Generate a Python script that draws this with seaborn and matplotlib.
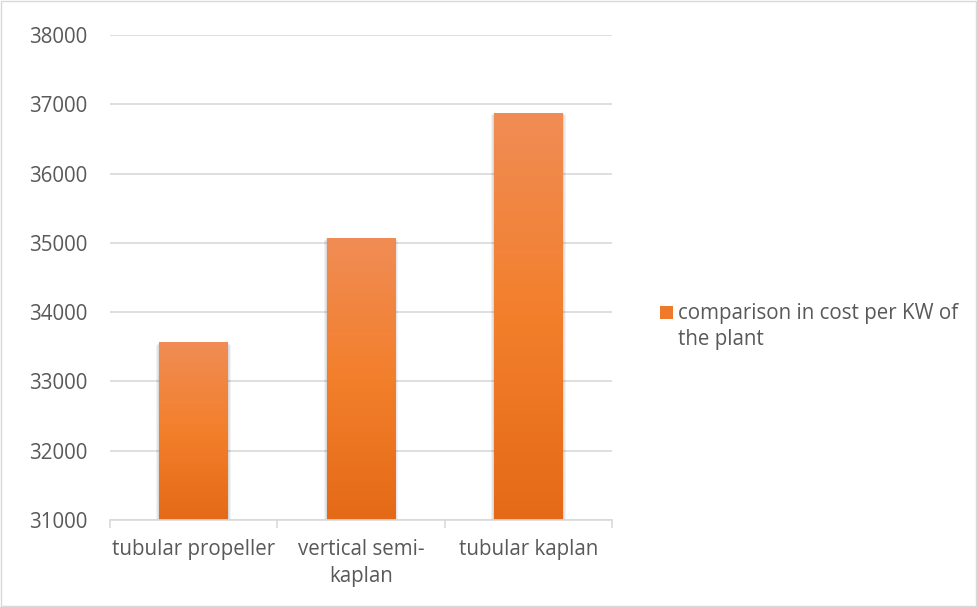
import numpy as np
import pandas as pd
import matplotlib
matplotlib.use('Agg')
import matplotlib.pyplot as plt
import seaborn as sns
from matplotlib.colors import LinearSegmentedColormap
from matplotlib.patches import Rectangle

# data
categories = ['tubular propeller', 'vertical semi-\nkaplan', 'tubular kaplan']
cost_per_kw = [33560, 35070, 36870]
series_name = 'comparison in cost per KW of\nthe plant'
y_ticks = [31000, 32000, 33000, 34000, 35000, 36000, 37000, 38000]

df = pd.DataFrame({'turbine': categories, 'cost': cost_per_kw})

sns.set_style('white')
plt.rcParams['font.family'] = ['Open Sans', 'DejaVu Sans']

text_col = '#595959'
grid_col = '#D9D9D9'
fs = 14.8

fig = plt.figure(figsize=(9.78, 6.07), dpi=100)
ax = fig.add_axes([0.1125, 0.1433, 0.5133, 0.7990])

sns.barplot(data=df, x='turbine', y='cost', color='#ED7D31', width=0.41,
            ax=ax, zorder=3)

ymin, ymax = 31000, 38000
ax.set_ylim(ymin, ymax)
ax.set_yticks(y_ticks)
ax.set_xlim(-0.5, 2.5)
ax.yaxis.grid(True, color=grid_col, linewidth=1.2, zorder=0)
ax.set_axisbelow(True)
for s in ['top', 'right', 'left']:
    ax.spines[s].set_visible(False)
ax.spines['bottom'].set_color(grid_col)
ax.spines['bottom'].set_linewidth(1.2)
ax.spines['bottom'].set_zorder(5)
ax.set_xlabel('')
ax.set_ylabel('')

# category boundary ticks like Excel
ax.set_xticks([-0.5, 0.5, 1.5, 2.5], minor=True)
ax.tick_params(axis='x', which='minor', length=6, color=grid_col, width=1.2,
               direction='out', bottom=True)
ax.tick_params(axis='x', which='major', length=0, pad=14, labelsize=fs,
               labelcolor=text_col)
ax.tick_params(axis='y', length=0, pad=16, labelsize=fs, labelcolor=text_col)
for lbl in ax.get_xticklabels():
    lbl.set_linespacing(1.35)

# gradient fill + soft shadow on each bar
cmap = LinearSegmentedColormap.from_list('og', ['#E46A17', '#F37F2B', '#F08C55'])
grad = np.linspace(0, 1, 256).reshape(-1, 1)
for p in list(ax.patches):
    x0, w = p.get_x(), p.get_width()
    top = p.get_y() + p.get_height()
    p.set_visible(False)
    for k, a in enumerate([0.05, 0.05, 0.05]):
        d = 0.006 * (k + 1)
        ax.add_patch(Rectangle((x0 - d, ymin), w + 2 * d, top - ymin - 15 * k,
                               facecolor='#000000', alpha=a, edgecolor='none',
                               zorder=2))
    ax.imshow(grad, cmap=cmap, aspect='auto', origin='lower',
              extent=[x0, x0 + w, ymin, top], zorder=3)
ax.set_xlim(-0.5, 2.5)
ax.set_ylim(ymin, ymax)

# legend
fig.patches.append(Rectangle((660 / 978, 1 - 319 / 607), 13 / 978, 13 / 607,
                             transform=fig.transFigure, facecolor='#EF7A2C',
                             edgecolor='none'))
fig.text(678 / 978, 1 - 303 / 607, series_name, fontsize=fs, color=text_col,
         va='top', ha='left', linespacing=1.32)

# outer border
fig.patches.append(Rectangle((0.001, 0.002), 0.997, 0.996, transform=fig.transFigure,
                             facecolor='none', edgecolor=grid_col, linewidth=1))

fig.savefig('out.png', dpi=100)
